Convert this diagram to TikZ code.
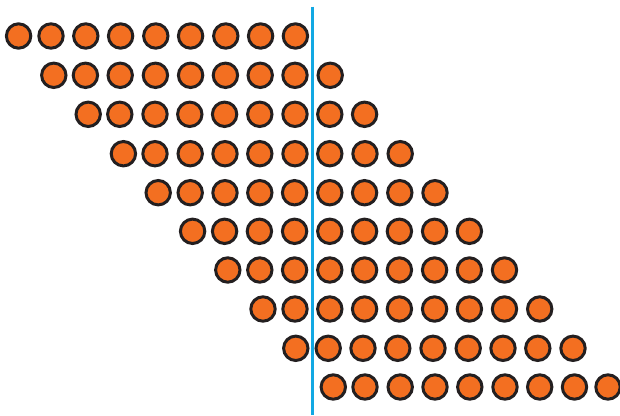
\documentclass[tikz,border=0pt]{standalone}
\usepackage{tikz}
\definecolor{dotfill}{HTML}{F36F21}
\definecolor{dotedge}{HTML}{231F20}
\definecolor{linecol}{HTML}{12A8E3}
\tikzset{
  dot/.style={circle, draw=dotedge, fill=dotfill, line width=3pt, minimum size=24.4pt, inner sep=0pt},
  divider/.style={draw=linecol, line width=2.4pt}
}
\begin{document}
\begin{tikzpicture}[x=1pt,y=-1pt]
\useasboundingbox (0,0) rectangle (620,415);
\foreach \row/\yy/\xs in {
  1/36/{18.6,51,85.8,120.6,155.8,190.6,225.8,260.6,295.4},
  2/75.3/{53.8,85.4,120.2,155.4,190.6,225.4,260.2,295,330.2},
  3/114.3/{88.2,119.8,155,189.8,224.6,259.8,295,329.8,364.6},
  4/153.7/{123.4,155,190.2,225,259.8,295,329.8,365,400.2},
  5/192.7/{158.2,190.2,225,259.8,294.6,329.8,364.6,399.8,435},
  6/231.3/{192.6,224.6,259.4,294.6,329.8,364.6,399.4,434.6,469.4},
  7/270/{227.8,259.8,294.6,329.8,364.6,399.4,434.6,469.4,504.5},
  8/309/{263,295,329.8,364.6,399.4,434.6,469.4,504.5,539.7},
  9/348.3/{295.8,328.2,363,397.8,433,468.2,503,537.8,573},
  10/387/{333.3,365,400.2,435,469.8,505,539.7,574.5,608}}{
  \foreach \xx [count=\k] in \xs {
    \node[dot] (r\row c\k) at (\xx,\yy) {};
  }
}
\coordinate (ltop) at (312.6,6.7);
\coordinate (lbot) at (312.6,415);
\draw[divider] (ltop) -- (lbot);
\end{tikzpicture}
\end{document}
